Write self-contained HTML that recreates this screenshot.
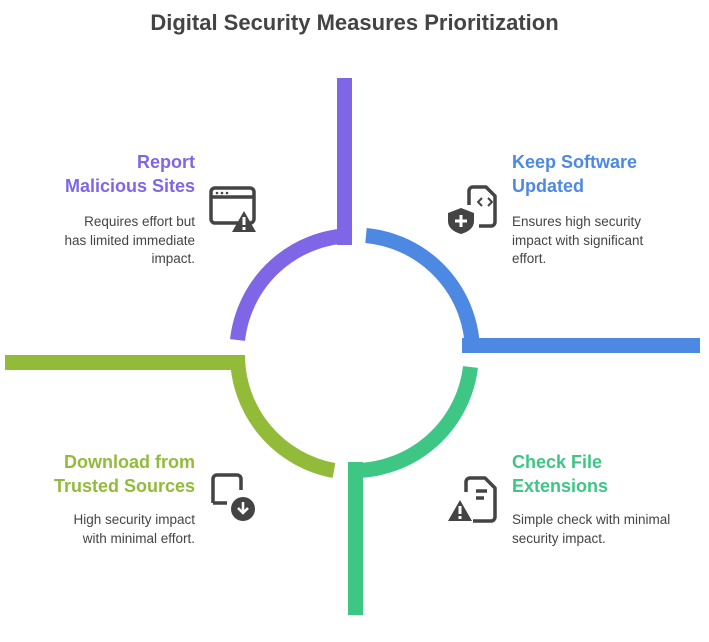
<!DOCTYPE html>
<html><head><meta charset="utf-8"><style>
body{margin:0;width:709px;height:642px;background:#fff;position:relative;overflow:hidden;font-family:"Liberation Sans",sans-serif}
.t{position:absolute;font-weight:bold;font-size:18px;line-height:24px}
.d{position:absolute;font-size:13.5px;line-height:18.5px;color:#444}
.r{text-align:right}
</style></head><body>
<div style="position:absolute;top:10px;left:0;width:709px;text-align:center;font-weight:bold;font-size:22px;color:#444">Digital Security Measures Prioritization</div>
<svg width="709" height="642" style="position:absolute;left:0;top:0" fill="none">
<g stroke-width="15" stroke-linecap="butt">
<path d="M237.5 340 A117.5 117.5 0 0 1 351 235.5" stroke="#7f66e6"/>
<path d="M366 235.5 A117.5 117.5 0 0 1 472.5 352" stroke="#4d89e3"/>
<path d="M470.5 367 A117.5 117.5 0 0 1 356 470.5" stroke="#3ec684"/>
<path d="M334 470.5 A117.5 117.5 0 0 1 237.5 355" stroke="#93bb3a"/>
</g>
<rect x="337" y="78" width="15" height="167" fill="#7f66e6"/>
<rect x="462" y="338" width="238" height="15" fill="#4d89e3"/>
<rect x="348" y="462" width="15" height="153" fill="#3ec684"/>
<rect x="5" y="355" width="240" height="15" fill="#93bb3a"/>
<g stroke="#444" stroke-width="3.5" fill="none" stroke-linejoin="round">
<rect x="211" y="188" width="43" height="35" rx="4"/>
<line x1="211" y1="197" x2="254" y2="197"/>
<path d="M469 205 v-14 a4 4 0 0 1 4-4 h13 l9 9 v26 a4 4 0 0 1-4 4 h-12"/>
<path d="M482 198 l-4 4 4 4 M488 198 l4 4 -4 4" stroke-width="2"/>
<path d="M466 492 v-10 a4 4 0 0 1 4-4 h15 l10 10 v29 a4 4 0 0 1-4 4 h-18"/>
<line x1="476" y1="491" x2="487" y2="491"/><line x1="476" y1="498" x2="484" y2="498"/>
<path d="M213 503 v-24 a4 4 0 0 1 4-4 h20 a4 4 0 0 1 4 4 v11 M213 503 h14"/>
</g>
<path d="M244 211 l12 21 h-24z" fill="#444"/><rect x="242.5" y="217" width="3" height="8" fill="#fff"/><rect x="242.5" y="227" width="3" height="3" fill="#fff"/>
<path d="M461 208 l13 5 v8 c0 7-6 11-13 13 c-7-2-13-6-13-13 v-8z" fill="#444"/><path d="M461 215 v12 M455 221 h12" stroke="#fff" stroke-width="3"/>
<path d="M460 500 l12 21 h-24z" fill="#444"/><rect x="458.5" y="506" width="3" height="8" fill="#fff"/><rect x="458.5" y="516" width="3" height="3" fill="#fff"/>
<circle cx="243" cy="509" r="12" fill="#444"/><path d="M243 502 v10 M238 508 l5 5 5-5" stroke="#fff" stroke-width="2.5" fill="none"/>
<circle cx="217" cy="193" r="1.3" fill="#444"/><circle cx="222" cy="193" r="1.3" fill="#444"/><circle cx="227" cy="193" r="1.3" fill="#444"/>
</svg>
<div class="t r" style="left:0;width:195px;top:150px;color:#7f66e6">Report<br>Malicious Sites</div>
<div class="d r" style="left:0;width:195px;top:213px">Requires effort but<br>has limited immediate<br>impact.</div>
<div class="t" style="left:512px;top:150px;color:#4d89e3">Keep Software<br>Updated</div>
<div class="d" style="left:512px;top:213px">Ensures high security<br>impact with significant<br>effort.</div>
<div class="t r" style="left:0;width:195px;top:450px;color:#93bb3a">Download from<br>Trusted Sources</div>
<div class="d r" style="left:0;width:195px;top:511px">High security impact<br>with minimal effort.</div>
<div class="t" style="left:512px;top:450px;color:#3ec684">Check File<br>Extensions</div>
<div class="d" style="left:512px;top:511px">Simple check with minimal<br>security impact.</div>
</body></html>
